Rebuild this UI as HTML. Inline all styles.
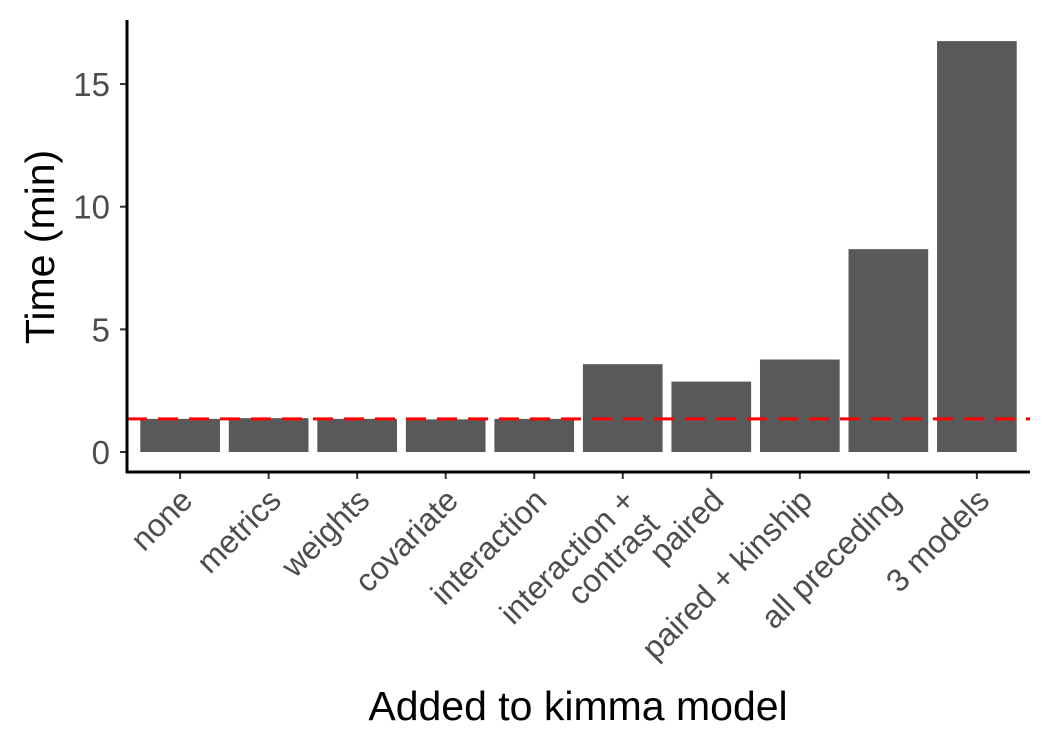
<!DOCTYPE html>
<html><head><meta charset="utf-8"><style>
body{margin:0;background:#fff;}
svg{display:block;font-family:"Liberation Sans",sans-serif;}
</style></head><body>
<svg id="chart" width="1050" height="750"></svg>
<script>
const categories=["none","metrics","weights","covariate","interaction","interaction +\ncontrast","paired","paired + kinship","all preceding","3 models"];
const timeValues=[1.35,1.38,1.35,1.33,1.35,3.58,2.87,3.77,8.27,16.75];
const yTicks=[0,5,10,15];
const refLine=1.35;
const NS="http://www.w3.org/2000/svg";
const svg=document.getElementById('chart');
const px0=127,px1=1030,yZero=452,pxPerUnit=24.53;
const band=(px1-px0)/(categories.length+0.2);
const xC=i=>px0+band*(0.6+i);
const y=v=>yZero-v*pxPerUnit;
function mk(t,a,txt){const e=document.createElementNS(NS,t);for(const k in a)e.setAttribute(k,a[k]);if(txt!=null)e.textContent=txt;svg.appendChild(e);return e;}
categories.forEach((c,i)=>{
 const b=mk('rect',{x:xC(i)-band*0.45,y:y(timeValues[i]),width:band*0.9,height:y(0)-y(timeValues[i]),fill:'#595959'});
 
 
 mk('line',{x1:xC(i),x2:xC(i),y1:472,y2:479,stroke:'#333','stroke-width':2});
 const lines=c.split('\n');
 const tx=xC(i)-2,ty=486;
 const t=mk('text',{x:tx,y:ty,'text-anchor':'end','font-size':32,fill:'#4d4d4d',transform:`rotate(-45 ${tx} ${ty})`});
 
 
 lines.forEach((l,j)=>{const s=document.createElementNS(NS,'tspan');s.setAttribute('x',tx);s.setAttribute('dy',j==0?23:34);s.textContent=l;t.appendChild(s);});
});
const rl=mk('line',{x1:px0,x2:px1,y1:y(refLine),y2:y(refLine),stroke:'#ff0000','stroke-width':3,'stroke-dasharray':'20,11'});


yTicks.forEach(v=>{
 mk('line',{x1:120,x2:127,y1:y(v),y2:y(v),stroke:'#333','stroke-width':2});
 const t=mk('text',{x:110,y:y(v)+12,'text-anchor':'end','font-size':33,fill:'#4d4d4d'},v);
 
 
});
mk('line',{x1:127,x2:127,y1:20,y2:473,stroke:'#000','stroke-width':3});
mk('line',{x1:126,x2:1030,y1:472,y2:472,stroke:'#000','stroke-width':3});
const xt=mk('text',{x:578,y:720,'text-anchor':'middle','font-size':41,fill:'#000'},'Added to kimma model');


const yt=mk('text',{x:54,y:247,'text-anchor':'middle','font-size':41,fill:'#000',transform:'rotate(-90 54 247)'},'Time (min)');


</script>
</body></html>
